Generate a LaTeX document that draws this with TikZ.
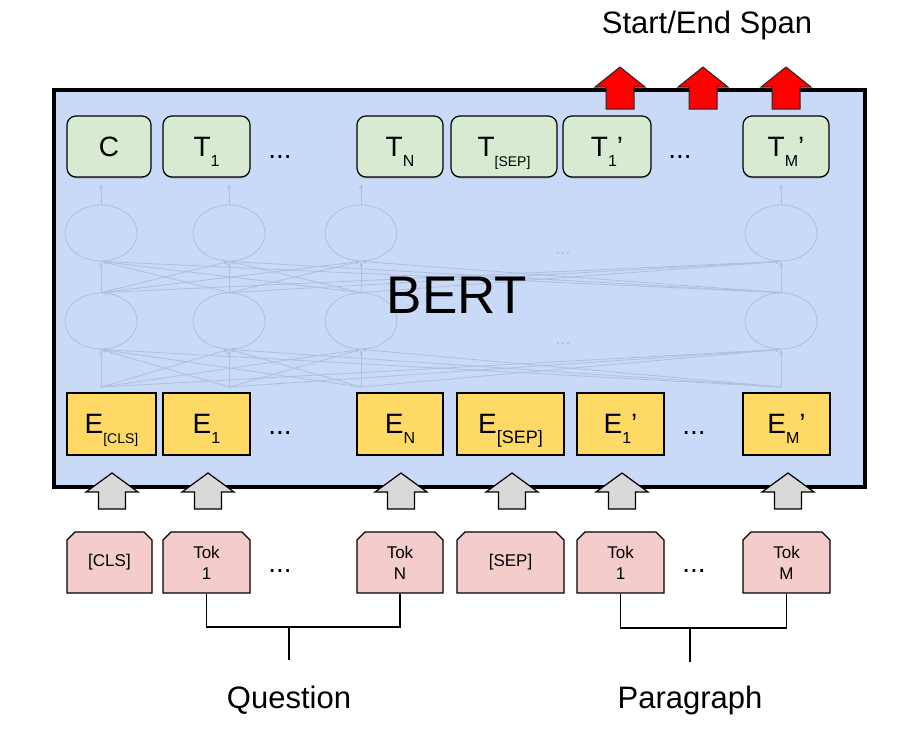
\documentclass[tikz,border=0pt]{standalone}
\usepackage{fontspec}
\setmainfont{Liberation Sans}
\usetikzlibrary{shapes.misc,shapes.geometric,shadows,arrows.meta}

\definecolor{bertblue}{HTML}{C9DAF8}
\definecolor{outgreen}{HTML}{D9EAD3}
\definecolor{embyellow}{HTML}{FFD966}
\definecolor{tokpink}{HTML}{F4CCCC}
\definecolor{ingray}{HTML}{D9D9D9}
\definecolor{netgray}{RGB}{176,190,216}

\newcommand{\lowsub}[2][16]{\raisebox{-10pt}[0pt][0pt]{\fontsize{#1}{#1}\selectfont #2}}

\begin{document}
\begin{tikzpicture}[x=1pt, y=-1pt,
    outbox/.style={draw, line width=1.2pt, rounded corners=9pt, fill=outgreen,
      minimum height=61pt, inner sep=0pt, font=\fontsize{28}{28}\selectfont,
      drop shadow={shadow xshift=0pt, shadow yshift=-1.5pt, opacity=0.45}},
    embbox/.style={draw, line width=1.2pt, fill=embyellow, minimum height=62pt,
      inner sep=0pt, font=\fontsize{28}{28}\selectfont},
    tokbox/.style={draw, line width=1.2pt, fill=tokpink, chamfered rectangle,
      chamfered rectangle corners={north west, north east},
      chamfered rectangle xsep=4pt, chamfered rectangle ysep=4pt,
      minimum height=61pt, inner sep=0pt, align=center,
      font=\fontsize{17}{21}\selectfont},
    netnode/.style={ellipse, draw=netgray, line width=0.8pt, fill=bertblue,
      minimum width=72pt, minimum height=56pt, inner sep=0pt},
    netline/.style={draw=netgray, line width=0.8pt,
      -{Latex[length=5pt, width=4pt]}},
    dots/.style={anchor=base, inner sep=0pt, font=\fontsize{28}{28}\selectfont},
    label/.style={anchor=base, inner sep=0pt, font=\fontsize{31}{31}\selectfont}]

  \useasboundingbox (0,0) rectangle (920,742);

  % BERT box
  \node[draw, line width=3.5pt, fill=bertblue, minimum width=811pt,
    minimum height=397pt, inner sep=0pt] (bertbox) at (459.5,288.5) {};

  % faded network inside the box
  \foreach \i/\x in {1/101,2/229,3/361,4/781} {
    \coordinate (b\i) at (\x,387);
    \node[netnode] (lo\i) at (\x,321) {};
    \node[netnode] (up\i) at (\x,233) {};
  }
  \foreach \i in {1,...,4}
    \foreach \j in {1,...,4} {
      \draw[netline] (b\i) -- (lo\j.south);
      \draw[netline] (lo\i.north) -- (up\j.south);
    }
  \node[dots, font=\fontsize{18}{18}\selectfont, text=netgray] (netdots1) at (563,254) {...};
  \node[dots, font=\fontsize{18}{18}\selectfont, text=netgray] (netdots2) at (563,344) {...};

  \node[label, font=\fontsize{53}{53}\selectfont] (bert) at (457,313) {BERT};

  % output row
  \node[outbox, minimum width=84pt] (c) at (109,146.5) {C};
  \node[outbox, minimum width=87pt] (t1) at (206.5,146.5) {T\lowsub{1}};
  \node[dots] (tdots1) at (280,158) {...};
  \node[outbox, minimum width=86pt] (tn) at (400,146.5) {T\lowsub{N}};
  \node[outbox, minimum width=106pt] (tsep) at (504,146.5) {T\lowsub[14]{[SEP]}};
  \node[outbox, minimum width=88pt] (tp1) at (607,146.5) {T\lowsub{1}’};
  \node[dots] (tdots2) at (680,158) {...};
  \node[outbox, minimum width=86pt] (tpm) at (786,146.5) {T\lowsub{M}’};

  \foreach \i in {1,...,4}
    \draw[netline, shorten >=6pt] (up\i.north) -- (up\i.north |- c.south);

  % embedding row
  \node[embbox, minimum width=89pt] (ecls) at (111.5,424) {E\lowsub[14]{[CLS]}};
  \node[embbox, minimum width=87pt] (e1) at (206.5,424) {E\lowsub{1}};
  \node[dots] (edots1) at (280,434) {...};
  \node[embbox, minimum width=86pt] (en) at (400,424) {E\lowsub{N}};
  \node[embbox, minimum width=107pt] (esep) at (510.5,424) {E\lowsub[18]{[SEP]}};
  \node[embbox, minimum width=87pt] (ep1) at (620.5,424) {E\lowsub{1}’};
  \node[dots] (edots2) at (694,434) {...};
  \node[embbox, minimum width=87pt] (epm) at (786.5,424) {E\lowsub{M}’};

  % input row
  \node[tokbox, minimum width=85pt] (cls) at (109.5,562.5) {[CLS]};
  \node[tokbox, minimum width=87pt] (tok1) at (206.5,562.5) {Tok\\1};
  \node[dots] (kdots1) at (280,572) {...};
  \node[tokbox, minimum width=86pt] (tokn) at (400,562.5) {Tok\\N};
  \node[tokbox, minimum width=107pt] (sep) at (510.5,562.5) {[SEP]};
  \node[tokbox, minimum width=87pt] (tokp1) at (620.5,562.5) {Tok\\1};
  \node[dots] (kdots2) at (694,572) {...};
  \node[tokbox, minimum width=87pt] (tokpm) at (786.5,562.5) {Tok\\M};

  % input arrows
  \foreach \x in {112,208,401,512,622,788}
    \draw[line width=1.2pt, fill=ingray] (\x-13.5,509) -- (\x-13.5,492) -- (\x-26,492)
      -- (\x,473) -- (\x+26,492) -- (\x+13.5,492) -- (\x+13.5,509) -- cycle;

  % output arrows
  \foreach \x in {620,703,786}
    \draw[line width=1pt, draw=black!85, fill=red] (\x-14,109) -- (\x-14,87) -- (\x-25,87)
      -- (\x,67) -- (\x+25,87) -- (\x+14,87) -- (\x+14,109) -- cycle;

  \node[label] (span) at (707,33) {Start/End Span};

  % segment brackets
  \coordinate (qjoin) at (289,627);
  \coordinate (qend) at (289,660);
  \draw[line width=1.2pt] (tok1.south) |- (qjoin) -| (tokn.south);
  \draw[line width=1.2pt] (qjoin) -- (qend);
  \coordinate (pjoin) at (690,628);
  \coordinate (pend) at (690,662);
  \draw[line width=1.2pt] (tokp1.south) |- (pjoin) -| (tokpm.south);
  \draw[line width=1.2pt] (pjoin) -- (pend);

  \node[label] (question) at (289,708) {Question};
  \node[label] (paragraph) at (690,708) {Paragraph};
\end{tikzpicture}
\end{document}
